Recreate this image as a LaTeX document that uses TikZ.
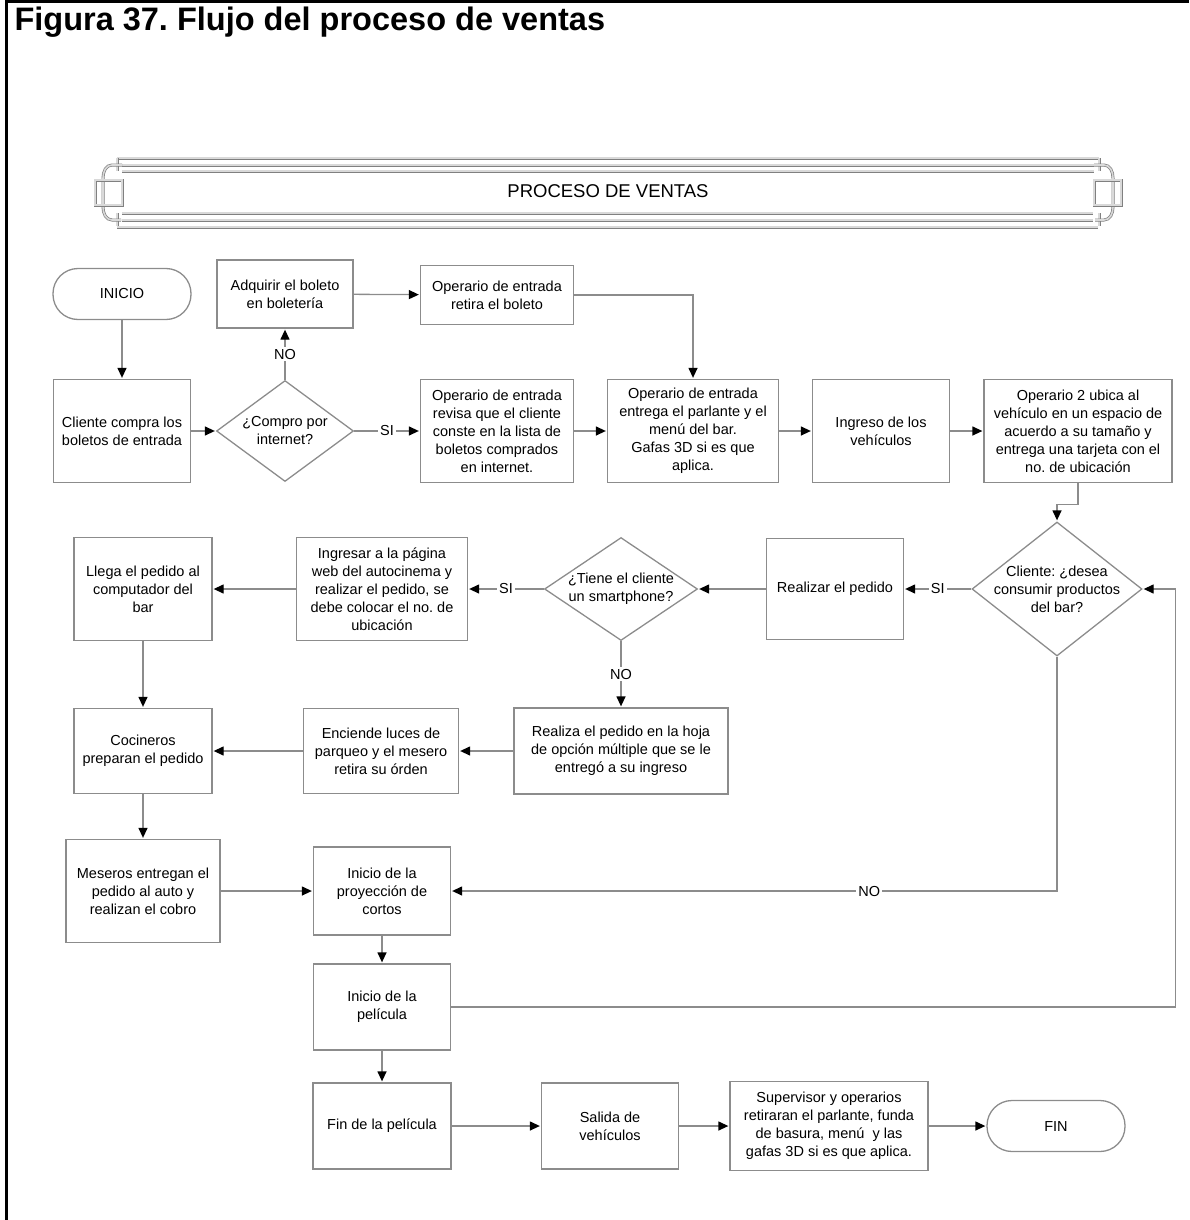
\documentclass[tikz,border=0pt]{standalone}
\usepackage{fontspec}
\setmainfont{Liberation Sans}
\usetikzlibrary{shapes.geometric,positioning,arrows.meta}
\definecolor{boxgray}{RGB}{140,140,140}
\frenchspacing

\tikzset{
  proc/.style 2 args={rectangle, draw=boxgray, line width=1.3pt, align=center,
    inner sep=1pt, minimum width=#1, minimum height=#2},
  term/.style={rectangle, rounded corners=25pt, draw=boxgray, line width=1.3pt,
    minimum width=138pt, minimum height=51pt},
  decision/.style 2 args={diamond, draw=boxgray, line width=1.3pt, inner sep=0pt,
    minimum width=#1, minimum height=#2},
  flow/.style={draw=boxgray, line width=1.3pt,
    -{Triangle[length=10pt,width=9pt,color=black]}},
  lbl/.style={fill=white, inner sep=2pt},
  bannerline/.style={draw=gray, double=gray!30, double distance=1.6pt, line width=0.7pt},
}

\begin{document}
\begin{tikzpicture}[x=1pt, y=-1pt, shorten >=1pt, node distance=2cm, on grid,
    font=\fontsize{14.5}{18}\selectfont]
   \useasboundingbox (0,0) rectangle (1190,1220);
   % marco y titulo
   \draw[line width=3pt] (6,1220) -- (6,1.5) -- (1190,1.5);
   \node[anchor=base west, font=\fontsize{32.5}{38}\selectfont\bfseries] (titulo) at (11,31)
     {Figura 37. Flujo del proceso de ventas};

   % encabezado
   \draw[bannerline] (117,158) -- (1099,158) (117,227) -- (1099,227);
   \draw[bannerline] (122,165) -- (1094,165) (122,220) -- (1094,220);
   \draw[bannerline] (122,171) -- (1094,171) (122,213) -- (1094,213);
   \draw[bannerline] (117,158) -- (117,171) (117,213) -- (117,227);
   \draw[bannerline] (1099,158) -- (1099,171) (1099,213) -- (1099,227);
   \draw[bannerline] (122,165) -- (112,165) to[out=180,in=90] (103,178) -- (103,207)
     to[out=-90,in=180] (112,220) -- (122,220);
   \draw[bannerline] (1094,165) -- (1104,165) to[out=0,in=90] (1113,178) -- (1113,207)
     to[out=-90,in=0] (1104,220) -- (1094,220);
   \draw[bannerline] (122,180) -- (95,180) -- (95,205) -- (122,205) -- cycle;
   \draw[bannerline] (1094,180) -- (1121,180) -- (1121,205) -- (1094,205) -- cycle;
   \node[font=\fontsize{18.5}{22}\selectfont] (encabezado) at (608,191) {PROCESO DE VENTAS};

   % primera fila
   \node[proc={137pt}{103pt}] (cliente) at (122,431) {Cliente compra los\\boletos de entrada};
   \node[term] (inicio) [above=137pt of cliente] {INICIO};
   \node[decision={137pt}{101pt}, label={[align=center]center:{¿Compro por\\internet?}}]
     (compro) [right=163pt of cliente] {};
   \node[proc={136pt}{68pt}] (adquirir) [above=137pt of compro] {Adquirir el boleto\\en boletería};
   \node[proc={153pt}{103pt}] (revisa) [right=212pt of compro]
     {Operario de entrada\\revisa que el cliente\\conste en la lista de\\boletos comprados\\en internet.};
   \node[proc={153pt}{59pt}] (retira) [above=136pt of revisa] {Operario de entrada\\retira el boleto};
   \node[proc={171pt}{103pt}] (entrega) [right=196pt of revisa]
     {Operario de entrada\\entrega el parlante y el\\menú del bar.\\Gafas 3D si es que\\aplica.};
   \node[proc={137pt}{103pt}] (ingreso) [right=188pt of entrega] {Ingreso de los\\vehículos};
   \node[proc={188pt}{103pt}] (ubica) [right=197pt of ingreso]
     {Operario 2 ubica al\\vehículo en un espacio de\\acuerdo a su tamaño y\\entrega una tarjeta con el\\no. de ubicación};

   % segunda fila
   \node[decision={170pt}{134pt}, label={[align=center]center:{Cliente: ¿desea\\consumir productos\\del bar?}}]
     (bar) [below left=158pt and 21pt of ubica] {};
   \node[proc={137pt}{101pt}] (realizar) [left=222pt of bar] {Realizar el pedido};
   \node[decision={153pt}{103pt}, label={[align=center]center:{¿Tiene el cliente\\un smartphone?}}]
     (smart) [left=214pt of realizar] {};
   \node[proc={171pt}{103pt}] (ingresar) [left=239pt of smart]
     {Ingresar a la página\\web del autocinema y\\realizar el pedido, se\\debe colocar el no. de\\ubicación};
   \node[proc={138pt}{103pt}] (llega) [left=239pt of ingresar] {Llega el pedido al\\computador del\\bar};

   % tercera fila
   \node[proc={214pt}{86pt}] (realiza) [below=162pt of smart]
     {Realiza el pedido en la hoja\\de opción múltiple que se le\\entregó a su ingreso};
   \node[proc={155pt}{85pt}] (enciende) [left=240pt of realiza]
     {Enciende luces de\\parqueo y el mesero\\retira su órden};
   \node[proc={138pt}{85pt}] (cocineros) [below=162pt of llega] {Cocineros\\preparan el pedido};
   \node[proc={154pt}{103pt}] (meseros) [below=140pt of cocineros]
     {Meseros entregan el\\pedido al auto y\\realizan el cobro};
   \node[proc={137pt}{88pt}] (proyeccion) [right=239pt of meseros]
     {Inicio de la\\proyección de\\cortos};
   \node[proc={137pt}{86pt}] (pelicula) [below=116pt of proyeccion] {Inicio de la\\película};

   % ultima fila
   \node[proc={138pt}{86pt}] (finpeli) [below=119pt of pelicula] {Fin de la película};
   \node[proc={137pt}{86pt}] (salida) [right=228pt of finpeli] {Salida de\\vehículos};
   \node[proc={198pt}{89pt}] (super) [right=219pt of salida]
     {Supervisor y operarios\\retiraran el parlante, funda\\de basura, menú~ y las\\gafas 3D si es que aplica.};
   \node[term] (fin) [right=227pt of super] {FIN};

   \path[flow]
    (inicio) edge (cliente)
    (cliente) edge (compro)
    (compro) edge node[lbl] {NO} (adquirir)
             edge node[lbl] {SI} (revisa)
    (adquirir) edge (retira)
    (revisa) edge (entrega)
    (entrega) edge (ingreso)
    (ingreso) edge (ubica)
    (bar) edge node[lbl] {SI} (realizar)
    (realizar) edge (smart)
    (smart) edge node[lbl] {SI} (ingresar)
            edge node[lbl] {NO} (realiza)
    (ingresar) edge (llega)
    (llega) edge (cocineros)
    (realiza) edge (enciende)
    (enciende) edge (cocineros)
    (cocineros) edge (meseros)
    (meseros) edge (proyeccion)
    (proyeccion) edge (pelicula)
    (pelicula) edge (finpeli)
    (finpeli) edge (salida)
    (salida) edge (super)
    (super) edge (fin);
   \draw[flow] (retira.east) -| (entrega.north);
   \draw[flow] (ubica.south) -- ++(0,21) -| (bar.north);
   \draw[flow] (bar.south) |- node[lbl, pos=0.655] {NO} (proyeccion.east);
   \draw[flow] (pelicula.east) -| ([xshift=33pt]bar.east) -- (bar.east);
\end{tikzpicture}
\end{document}
